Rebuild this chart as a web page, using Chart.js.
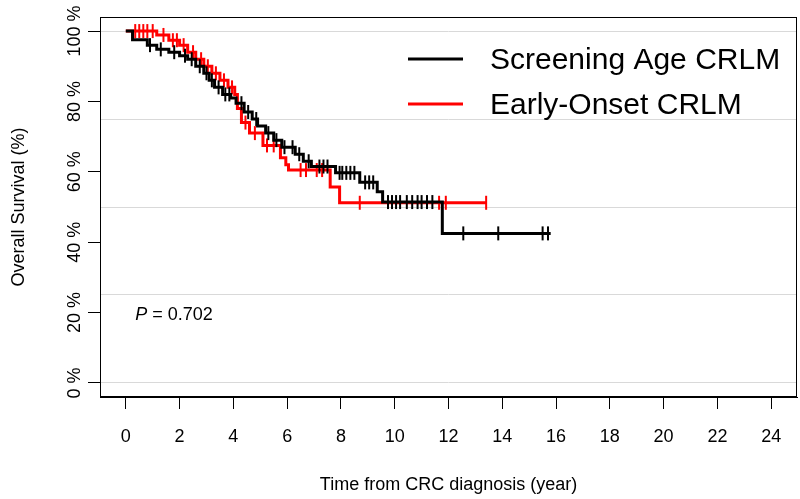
<!DOCTYPE html>
<html>
<head>
<meta charset="utf-8">
<script src="https://cdn.jsdelivr.net/npm/chart.js@4"></script>
<style>
  body { margin: 0; background: #fff; }
  canvas { display: block; }
</style>
</head>
<body>
<canvas id="km-chart" width="800" height="499"></canvas>
<script>
// Kaplan-Meier steps (time in years, survival in %)
const screeningTimes = [0, 0.25, 0.8, 1.15, 1.6, 2.0, 2.3, 2.6, 2.9, 3.1, 3.3, 3.6, 3.9, 4.1, 4.4, 4.7, 4.9, 5.2, 5.5, 5.8, 6.3, 6.6, 6.9, 7.8, 8.7, 9.35, 9.55, 11.77, 15.8];
const screeningSurv  = [100, 97.5, 96, 94.8, 94, 93, 92, 90, 88, 86, 84, 82, 81, 79.5, 77, 75, 73, 71, 69, 67, 65, 63, 61.5, 59.7, 57, 54.3, 51.4, 42.5, 42.5];
const screeningCensor = [0.9, 1.3, 1.8, 2.2, 2.45, 2.75, 3.0, 3.2, 3.45, 3.7, 3.85, 4.3, 4.55, 4.85, 5.3, 5.6, 5.9, 6.2, 6.45, 6.8, 7.2, 7.35, 7.5, 7.95, 8.05, 8.2, 8.35, 8.5, 8.9, 9.05, 9.2, 9.75, 9.9, 10.05, 10.2, 10.45, 10.65, 10.85, 11.0, 11.2, 11.4, 12.55, 13.85, 15.5, 15.7];

const earlyTimes = [0, 1.15, 1.6, 2.0, 2.3, 2.6, 2.9, 3.2, 3.5, 3.8, 4.05, 4.15, 4.3, 4.6, 5.1, 5.75, 5.95, 6.05, 7.6, 7.95, 13.4];
const earlySurv  = [100, 98.9, 97.4, 96, 94, 92, 90, 88, 86, 84, 82, 78, 74, 71, 67.5, 64, 62, 60.5, 55.7, 51.2, 51.2];
const earlyCensor = [0.35, 0.5, 0.65, 0.8, 1.0, 1.4, 1.75, 1.9, 2.15, 2.5, 2.8, 3.05, 3.35, 3.65, 3.95, 4.45, 4.8, 5.25, 5.5, 6.5, 6.7, 7.1, 7.3, 8.7, 11.65, 11.9, 13.4];

const xTicks = [0, 2, 4, 6, 8, 10, 12, 14, 16, 18, 20, 22, 24];
const yTicks = [0, 20, 40, 60, 80, 100];
const gridLevels = [0, 25, 50, 75, 100];
const legendLabels = ['Screening Age CRLM', 'Early-Onset CRLM'];
const pValueText = '0.702';

const FONT = '"Liberation Sans", Arial, sans-serif';

// survival value at time t (step function)
function survAt(times, surv, t) {
  let s = surv[0];
  for (let i = 0; i < times.length; i++) {
    if (times[i] <= t) s = surv[i];
  }
  return s;
}

const toPoints = (xs, ys) => xs.map((x, i) => ({ x: x, y: ys[i] }));
const censorPoints = (cs, times, surv) => cs.map(t => ({ x: t, y: survAt(times, surv, t) }));

const setTicks = values => axis => { axis.ticks = values.map(v => ({ value: v })); };

const decorations = {
  id: 'decorations',
  afterDatasetsDraw(chart) {
    const { ctx, chartArea: a, scales } = chart;
    ctx.save();
    // box around the plot
    ctx.strokeStyle = '#000';
    ctx.lineWidth = 1;
    ctx.strokeRect(a.left + 0.5, a.top + 0.5, a.right - a.left - 1, a.bottom - a.top - 1);

    // y tick labels, rotated like R's
    ctx.fillStyle = '#000';
    ctx.font = '18px ' + FONT;
    ctx.textAlign = 'center';
    ctx.textBaseline = 'middle';
    yTicks.forEach(v => {
      const y = scales.y.getPixelForValue(v);
      ctx.save();
      ctx.translate(75, y);
      ctx.rotate(-Math.PI / 2);
      ctx.fillText(v + ' %', 0, 0);
      ctx.restore();
    });

    // legend
    const colors = ['#000000', '#ff0000'];
    ctx.font = '30px ' + FONT;
    ctx.textAlign = 'left';
    legendLabels.forEach((label, i) => {
      const y = a.top + 42 + i * 45;
      ctx.strokeStyle = colors[i];
      ctx.lineWidth = 3;
      ctx.beginPath();
      ctx.moveTo(408, y);
      ctx.lineTo(463, y);
      ctx.stroke();
      ctx.fillText(label, 490, y + 2);
    });

    // P value
    const px = scales.x.getPixelForValue(0.35);
    const py = scales.y.getPixelForValue(19.3);
    ctx.font = 'italic 18px ' + FONT;
    ctx.fillText('P', px, py);
    const w = ctx.measureText('P').width;
    ctx.font = '18px ' + FONT;
    ctx.fillText(' = ' + pValueText, px + w, py);
    ctx.restore();
  }
};

const ctx = document.querySelector('#km-chart').getContext('2d');
const chart = new Chart(ctx, {
  type: 'scatter',
  data: {
    datasets: [
      {
        label: legendLabels[0],
        type: 'line',
        data: toPoints(screeningTimes, screeningSurv),
        borderColor: '#000',
        borderWidth: 3,
        stepped: true,
        pointRadius: 0,
        fill: false
      },
      {
        label: legendLabels[0] + ' censored',
        data: censorPoints(screeningCensor, screeningTimes, screeningSurv),
        pointStyle: 'line',
        rotation: 90,
        pointRadius: 7,
        borderColor: '#000',
        borderWidth: 2
      },
      {
        label: legendLabels[1],
        type: 'line',
        data: toPoints(earlyTimes, earlySurv),
        borderColor: '#ff0000',
        borderWidth: 3,
        stepped: true,
        pointRadius: 0,
        fill: false
      },
      {
        label: legendLabels[1] + ' censored',
        data: censorPoints(earlyCensor, earlyTimes, earlySurv),
        pointStyle: 'line',
        rotation: 90,
        pointRadius: 7,
        borderColor: '#ff0000',
        borderWidth: 2
      }
    ]
  },
  options: {
    responsive: false,
    animation: false,
    devicePixelRatio: 1,
    layout: { autoPadding: false, padding: { top: 17, right: 3, left: 0, bottom: 0 } },
    plugins: { legend: { display: false }, tooltip: { enabled: false } },
    scales: {
      x: {
        type: 'linear',
        min: -0.96,
        max: 24.96,
        afterBuildTicks: setTicks(xTicks),
        afterFit: s => { s.height = 102; s.paddingLeft = 0; s.paddingRight = 0; },
        grid: { drawOnChartArea: false, tickLength: 12, color: '#000', tickWidth: 1 },
        border: { display: true, color: '#000', width: 1 },
        ticks: { color: '#000', font: { size: 18, family: FONT }, padding: 17, maxRotation: 0 },
        title: { display: true, text: 'Time from CRC diagnosis (year)', color: '#000', font: { size: 18, family: FONT }, padding: { top: 0, bottom: 3 } }
      },
      y: {
        type: 'linear',
        position: 'left',
        min: -4,
        max: 104,
        afterBuildTicks: setTicks(yTicks),
        afterFit: s => { s.width = 100; s.paddingTop = 0; s.paddingBottom = 0; },
        grid: { drawOnChartArea: false, tickLength: 12, color: '#000', tickWidth: 1 },
        border: { display: true, color: '#000', width: 1 },
        ticks: { display: false },
        title: { display: true, text: 'Overall Survival (%)', color: '#000', font: { size: 18, family: FONT }, padding: { top: 8, bottom: 0 } }
      },
      yGrid: {
        type: 'linear',
        position: 'left',
        min: -4,
        max: 104,
        afterBuildTicks: setTicks(gridLevels),
        afterFit: s => { s.width = 0; },
        grid: { color: '#d9d9d9', lineWidth: 1, drawTicks: false },
        border: { display: false },
        ticks: { display: false }
      }
    }
  },
  plugins: [decorations]
});
</script>
</body>
</html>
